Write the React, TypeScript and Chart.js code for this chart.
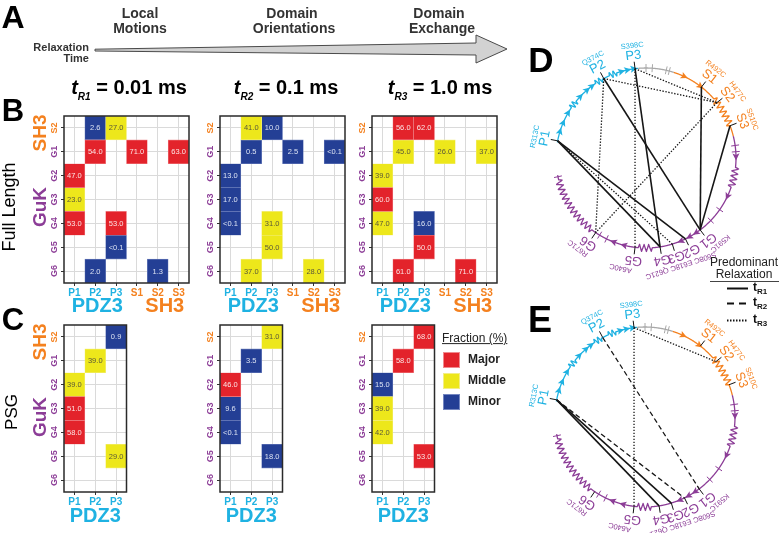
import React, { useEffect, useRef } from 'react';
import { Chart, registerables } from 'chart.js';

Chart.register(...registerables);

const FONT = '"Liberation Sans", Arial, Helvetica, sans-serif';
Chart.defaults.font.family = FONT;

// ---------- colours ----------
const CYAN = '#1FB2E2';
const ORANGE = '#F4811F';
const PURPLE = '#8C3D97';
const GRAYSEG = '#A8A8A8';

// ---------- heatmap data ----------
const rowLabels = ['S2', 'G1', 'G2', 'G3', 'G4', 'G5', 'G6'];
const fullCols = ['P1', 'P2', 'P3', 'S1', 'S2', 'S3'];
const psgCols = ['P1', 'P2', 'P3'];

const fullPairs = [
  ['P2', 'S2'], ['P3', 'S2'], ['P2', 'G1'], ['S1', 'G1'], ['S3', 'G1'], ['P1', 'G2'],
  ['P1', 'G3'], ['P1', 'G4'], ['P3', 'G4'], ['P3', 'G5'], ['P2', 'G6'], ['S2', 'G6'],
];
const fullR1Values = ['2.6', '27.0', '54.0', '71.0', '63.0', '47.0', '23.0', '53.0', '53.0', '<0.1', '2.0', '1.3'];
const fullR1Class = ['Minor', 'Middle', 'Major', 'Major', 'Major', 'Major', 'Middle', 'Major', 'Major', 'Minor', 'Minor', 'Minor'];
const fullR2Values = ['41.0', '10.0', '0.5', '2.5', '<0.1', '13.0', '17.0', '<0.1', '31.0', '50.0', '37.0', '28.0'];
const fullR2Class = ['Middle', 'Minor', 'Minor', 'Minor', 'Minor', 'Minor', 'Minor', 'Minor', 'Middle', 'Middle', 'Middle', 'Middle'];
const fullR3Values = ['56.0', '62.0', '45.0', '26.0', '37.0', '39.0', '60.0', '47.0', '16.0', '50.0', '61.0', '71.0'];
const fullR3Class = ['Major', 'Major', 'Middle', 'Middle', 'Middle', 'Middle', 'Major', 'Middle', 'Minor', 'Major', 'Major', 'Major'];

const psgPairs = [['P3', 'S2'], ['P2', 'G1'], ['P1', 'G2'], ['P1', 'G3'], ['P1', 'G4'], ['P3', 'G5']];
const psgR1Values = ['0.9', '39.0', '39.0', '51.0', '58.0', '29.0'];
const psgR1Class = ['Minor', 'Middle', 'Middle', 'Major', 'Major', 'Middle'];
const psgR2Values = ['31.0', '3.5', '46.0', '9.6', '<0.1', '18.0'];
const psgR2Class = ['Middle', 'Minor', 'Major', 'Minor', 'Minor', 'Minor'];
const psgR3Values = ['68.0', '58.0', '15.0', '39.0', '42.0', '53.0'];
const psgR3Class = ['Major', 'Major', 'Minor', 'Middle', 'Middle', 'Major'];

// ---------- circle diagram data ----------
const siteNames = ['P1', 'P2', 'P3', 'S1', 'S2', 'S3', 'G1', 'G2', 'G3', 'G4', 'G5', 'G6'];
const siteAngles = [169, 118, 97, 52, 38, 21, -53, -64, -73, -81, -97, -124];
const mutationNames = ['R313C', 'Q374C', 'S398C', 'R492C', 'H477C', 'S510C', 'K591C', 'S608C E618C Q621C', 'A640C', 'R671C'];
const mutationSites = ['P1', 'P2', 'P3', 'S1', 'S2', 'S3', 'G1', 'G3', 'G5', 'G6'];
const mutationAngles = [169, 118, 97, 52, 36, 20, -49, -72, -103, -127];

const fullChordFrom = ['P1', 'P1', 'P2', 'P3', 'S1', 'S3', 'P1', 'P2', 'P2', 'P3', 'P3', 'S2'];
const fullChordTo = ['G2', 'G4', 'G1', 'G4', 'G1', 'G1', 'G3', 'S2', 'G6', 'S2', 'G5', 'G6'];
const fullChordTime = ['tR1', 'tR1', 'tR1', 'tR1', 'tR1', 'tR1', 'tR3', 'tR3', 'tR3', 'tR3', 'tR3', 'tR3'];
const psgChordFrom = ['P1', 'P1', 'P1', 'P2', 'P3', 'P3'];
const psgChordTo = ['G3', 'G4', 'G2', 'G1', 'S2', 'G5'];
const psgChordTime = ['tR1', 'tR1', 'tR2', 'tR2', 'tR3', 'tR3'];

// ---------- styles ----------
const CLASS_ORDER = ['Major', 'Middle', 'Minor'];
const CLASS_FILL: any = { Major: '#E3232B', Middle: '#EDE71B', Minor: '#243F95' };
const CLASS_INK: any = { Major: '#FCE4E4', Middle: '#5A5838', Minor: '#DCE3F3' };
const CLASS_EDGE: any = { Major: '#F08A8E', Middle: '#F3EE86', Minor: '#7486C0' };

const CHORD_STYLE: any = {
  tR1: { dash: [], width: 1.6 },
  tR2: { dash: [5, 3], width: 1.3 },
  tR3: { dash: [1.4, 1.6], width: 1.3 },
};

const BACKBONE = [
  { from: 170, to: 95, color: CYAN },
  { from: 95, to: 72, color: GRAYSEG },
  { from: 72, to: 14, color: ORANGE },
  { from: 14, to: -169, color: PURPLE },
];
const HELICES = [[146, 141], [124, 119], [114, 109], [41, 21], [-6, -19], [-86, -95], [-127, -166]];
const STRANDS = [163, 157, 150, 137, 131, 127, 106, 102, 98, 65, 53, 1, -25, -56, -61, -67, -104, -111];
const CROSSES = [90, 86, 77, 75, 8, 4, -35, -44, -116, -121, -168];

const siteColor = (s: string) => (s[0] === 'P' ? CYAN : s[0] === 'S' ? ORANGE : PURPLE);

const CELL_W = 125 / 6;
const FRAME_H = 167;

// ---------- heatmap ----------
function Heatmap({ left, top, cols, pairs, values, classes }: any) {
  const ref = useRef<HTMLCanvasElement>(null);
  const YW = 22;
  const PT = 4;
  const XH = 20;
  const fw = cols.length * CELL_W;
  const W = Math.ceil(YW + fw + 4);
  const H = PT + FRAME_H + XH;

  useEffect(() => {
    const datasets = CLASS_ORDER.map((c) => ({
      label: c,
      data: pairs
        .map((p: string[], i: number) => ({
          x: p[0],
          y: [rowLabels.indexOf(p[1]) - 0.5, rowLabels.indexOf(p[1]) + 0.5],
          v: values[i],
          c: classes[i],
        }))
        .filter((d: any) => d.c === c),
      backgroundColor: CLASS_FILL[c],
      borderColor: CLASS_EDGE[c],
      borderWidth: 0.6,
      borderSkipped: false,
      grouped: false,
      barPercentage: 1,
      categoryPercentage: 1,
    }));

    const cellText = {
      id: 'cellText',
      afterDatasetsDraw(chart: any) {
        const ctx = chart.ctx;
        ctx.save();
        ctx.font = `7.5px ${FONT}`;
        ctx.textAlign = 'center';
        ctx.textBaseline = 'middle';
        chart.data.datasets.forEach((ds: any, di: number) => {
          const meta = chart.getDatasetMeta(di);
          meta.data.forEach((el: any, j: number) => {
            const d = ds.data[j];
            ctx.fillStyle = CLASS_INK[d.c];
            ctx.fillText(d.v, el.x, (el.y + el.base) / 2 + 0.5);
          });
        });
        ctx.restore();
      },
    };

    const frame = {
      id: 'frame',
      afterDraw(chart: any) {
        const ctx = chart.ctx;
        const a = chart.chartArea;
        ctx.save();
        ctx.strokeStyle = '#2A2A2A';
        ctx.lineWidth = 1.5;
        ctx.strokeRect(a.left, a.top, a.right - a.left, a.bottom - a.top);
        const ys = chart.scales.y;
        ctx.font = `bold 9px ${FONT}`;
        ctx.textAlign = 'center';
        ctx.textBaseline = 'middle';
        rowLabels.forEach((r, i) => {
          ctx.save();
          ctx.translate(a.left - 9, ys.getPixelForValue(i));
          ctx.rotate(-Math.PI / 2);
          ctx.fillStyle = siteColor(r);
          ctx.fillText(r, 0, 0);
          ctx.restore();
        });
        ctx.restore();
      },
    };

    const chart = new Chart(ref.current as HTMLCanvasElement, {
      type: 'bar',
      data: { labels: cols, datasets: datasets as any },
      options: {
        animation: false,
        responsive: false,
        maintainAspectRatio: false,
        events: [],
        layout: { padding: { top: PT, right: W - YW - fw, left: 0, bottom: 0 } },
        plugins: { legend: { display: false }, tooltip: { enabled: false } },
        scales: {
          x: {
            type: 'category',
            offset: true,
            grid: { offset: false, color: '#DADADA', lineWidth: 1, tickLength: 3, tickColor: '#333', tickWidth: 1 },
            border: { display: false },
            ticks: {
              autoSkip: false,
              maxRotation: 0,
              minRotation: 0,
              padding: 1,
              font: { size: 10, weight: 'bold' },
              color: (ctx: any) => siteColor(cols[ctx.index] || 'P'),
            },
            afterFit: (s: any) => {
              s.height = XH;
            },
          },
          y: {
            type: 'linear',
            min: -0.5,
            max: 6.5,
            reverse: true,
            afterBuildTicks: (s: any) => {
              s.ticks = rowLabels.map((_, i) => ({ value: i }));
            },
            grid: { color: '#DADADA', lineWidth: 1, tickLength: 3, tickColor: '#333', tickWidth: 1 },
            border: { display: false },
            ticks: { display: false },
            afterFit: (s: any) => {
              s.width = YW;
            },
          },
        },
      } as any,
      plugins: [cellText, frame],
    });
    return () => chart.destroy();
  }, []);

  return (
    <canvas
      ref={ref}
      width={W}
      height={H}
      style={{ position: 'absolute', left: left - YW, top: top - PT, width: W, height: H }}
    />
  );
}

// ---------- circle diagram ----------
function segColor(a: number) {
  for (const s of BACKBONE) if (a <= s.from && a >= s.to) return s.color;
  return PURPLE;
}

function drawBackbone(ctx: any, cx: number, cy: number, R: number) {
  const rad = (a: number) => (a * Math.PI) / 180;
  ctx.save();
  ctx.lineWidth = 1.3;
  ctx.lineJoin = 'round';
  for (const s of BACKBONE) {
    ctx.beginPath();
    ctx.strokeStyle = s.color;
    let first = true;
    for (let a = s.from; a >= s.to - 1e-9; a -= 0.25) {
      let r = R;
      const h = HELICES.find((hh) => a <= hh[0] && a >= hh[1]);
      if (h) {
        const len = rad(h[0] - h[1]) * R;
        const n = Math.max(1, Math.round(len / 5));
        const u = ((h[0] - a) / (h[0] - h[1])) * n;
        const f = u - Math.floor(u);
        const g = f < 0.25 ? 4 * f : f < 0.75 ? 2 - 4 * f : 4 * f - 4;
        r = R + 3.5 * g;
      }
      const x = cx + r * Math.cos(rad(a));
      const y = cy - r * Math.sin(rad(a));
      if (first) {
        ctx.moveTo(x, y);
        first = false;
      } else ctx.lineTo(x, y);
    }
    ctx.stroke();
  }
  for (const a of STRANDS) {
    const t = rad(a);
    const px = cx + R * Math.cos(t);
    const py = cy - R * Math.sin(t);
    const tx = Math.sin(t);
    const ty = Math.cos(t);
    const nx = Math.cos(t);
    const ny = -Math.sin(t);
    ctx.fillStyle = segColor(a);
    ctx.beginPath();
    ctx.moveTo(px + 4 * tx, py + 4 * ty);
    ctx.lineTo(px - 3 * tx + 3.5 * nx, py - 3 * ty + 3.5 * ny);
    ctx.lineTo(px - 1.5 * tx, py - 1.5 * ty);
    ctx.lineTo(px - 3 * tx - 3.5 * nx, py - 3 * ty - 3.5 * ny);
    ctx.closePath();
    ctx.fill();
  }
  ctx.lineWidth = 1;
  for (const a of CROSSES) {
    const t = rad(a);
    ctx.strokeStyle = segColor(a);
    ctx.beginPath();
    ctx.moveTo(cx + (R - 4) * Math.cos(t), cy - (R - 4) * Math.sin(t));
    ctx.lineTo(cx + (R + 4) * Math.cos(t), cy - (R + 4) * Math.sin(t));
    ctx.stroke();
  }
  ctx.restore();
}

function drawSiteLabels(ctx: any, cx: number, cy: number, R: number) {
  const rad = (a: number) => (a * Math.PI) / 180;
  ctx.save();
  ctx.strokeStyle = '#111';
  ctx.lineWidth = 1;
  siteNames.forEach((s, i) => {
    const t = rad(siteAngles[i]);
    ctx.beginPath();
    ctx.moveTo(cx + R * Math.cos(t), cy - R * Math.sin(t));
    ctx.lineTo(cx + (R + 7) * Math.cos(t), cy - (R + 7) * Math.sin(t));
    ctx.stroke();
  });
  ctx.textAlign = 'center';
  ctx.textBaseline = 'middle';
  const put = (text: string, a: number, r: number, font: string, color: string) => {
    const t = rad(a);
    ctx.save();
    ctx.translate(cx + r * Math.cos(t), cy - r * Math.sin(t));
    ctx.rotate(((90 - a) * Math.PI) / 180);
    ctx.font = font;
    ctx.fillStyle = color;
    ctx.fillText(text, 0, 0);
    ctx.restore();
  };
  siteNames.forEach((s, i) => put(s, siteAngles[i], R + 13, `13px ${FONT}`, siteColor(s)));
  mutationNames.forEach((m, i) => put(m, mutationAngles[i], R + 23, `7.5px ${FONT}`, siteColor(mutationSites[i])));
  ctx.restore();
}

function CircleChart({ cx, cy, from, to, time }: any) {
  const ref = useRef<HTMLCanvasElement>(null);
  const SIZE = 280;
  const R_PX = 90;
  useEffect(() => {
    const S = SIZE / 2 / R_PX;
    const pt = (name: string) => {
      const a = (siteAngles[siteNames.indexOf(name)] * Math.PI) / 180;
      return { x: Math.cos(a), y: Math.sin(a) };
    };
    const datasets = from.map((f: string, i: number) => ({
      data: [pt(f), pt(to[i])],
      showLine: true,
      borderColor: '#161616',
      borderWidth: CHORD_STYLE[time[i]].width,
      borderDash: CHORD_STYLE[time[i]].dash,
      pointRadius: 0,
      fill: false,
    }));
    const ring = {
      id: 'ring',
      beforeDatasetsDraw(chart: any) {
        const xs = chart.scales.x;
        const ys = chart.scales.y;
        const c0 = xs.getPixelForValue(0);
        const R = xs.getPixelForValue(1) - c0;
        drawBackbone(chart.ctx, c0, ys.getPixelForValue(0), R);
      },
      afterDatasetsDraw(chart: any) {
        const xs = chart.scales.x;
        const ys = chart.scales.y;
        const c0 = xs.getPixelForValue(0);
        const R = xs.getPixelForValue(1) - c0;
        drawSiteLabels(chart.ctx, c0, ys.getPixelForValue(0), R);
      },
    };
    const chart = new Chart(ref.current as HTMLCanvasElement, {
      type: 'scatter',
      data: { datasets },
      options: {
        animation: false,
        responsive: false,
        maintainAspectRatio: false,
        events: [],
        layout: { padding: 0 },
        plugins: { legend: { display: false }, tooltip: { enabled: false } },
        scales: {
          x: { type: 'linear', min: -S, max: S, display: false },
          y: { type: 'linear', min: -S, max: S, display: false },
        },
      } as any,
      plugins: [ring],
    });
    return () => chart.destroy();
  }, []);
  return (
    <canvas
      ref={ref}
      width={SIZE}
      height={SIZE}
      style={{ position: 'absolute', left: cx - SIZE / 2, top: cy - SIZE / 2, width: SIZE, height: SIZE }}
    />
  );
}

// ---------- text helper ----------
function T({ x, y, s = 12, w = 'bold', c = '#000', a = 'center', r = 0, children, style }: any) {
  const tx = a === 'center' ? '-50%' : a === 'right' ? '-100%' : '0';
  return (
    <div
      style={{
        position: 'absolute',
        left: x,
        top: y,
        transform: `translate(${tx},-50%) rotate(${r}deg)`,
        fontFamily: FONT,
        fontSize: s,
        fontWeight: w,
        color: c,
        whiteSpace: 'nowrap',
        lineHeight: 1.15,
        ...style,
      }}
    >
      {children}
    </div>
  );
}

function TTitle({ x, sub, val }: any) {
  return (
    <T x={x} y={87} s={20}>
      <i>t</i>
      <span style={{ fontSize: 10, fontStyle: 'italic', position: 'relative', top: 6 }}>{sub}</span>
      {' = ' + val}
    </T>
  );
}

export default function App() {
  const bLefts = [64, 220, 372];
  const pCenter = (l: number) => l + 1.5 * CELL_W;
  const sCenter = (l: number) => l + 4.5 * CELL_W;
  return (
    <div
      style={{
        position: 'fixed',
        left: 0,
        top: 0,
        width: 779,
        height: 533,
        overflow: 'hidden',
        background: '#fff',
        fontFamily: FONT,
      }}
    >
      <Heatmap left={64} top={116} cols={fullCols} pairs={fullPairs} values={fullR1Values} classes={fullR1Class} />
      <Heatmap left={220} top={116} cols={fullCols} pairs={fullPairs} values={fullR2Values} classes={fullR2Class} />
      <Heatmap left={372} top={116} cols={fullCols} pairs={fullPairs} values={fullR3Values} classes={fullR3Class} />
      <Heatmap left={64} top={325} cols={psgCols} pairs={psgPairs} values={psgR1Values} classes={psgR1Class} />
      <Heatmap left={220} top={325} cols={psgCols} pairs={psgPairs} values={psgR2Values} classes={psgR2Class} />
      <Heatmap left={372} top={325} cols={psgCols} pairs={psgPairs} values={psgR3Values} classes={psgR3Class} />

      <CircleChart cx={646} cy={158} from={fullChordFrom} to={fullChordTo} time={fullChordTime} />
      <CircleChart cx={645} cy={417} from={psgChordFrom} to={psgChordTo} time={psgChordTime} />

      <svg width={779} height={100} style={{ position: 'absolute', left: 0, top: 0 }}>
        <polygon
          points="95,49.2 476,43 476,35 507,49 476,63 476,55 95,51"
          fill="#D2D2D2"
          stroke="#4A4A4A"
          strokeWidth={1}
          strokeLinejoin="miter"
        />
      </svg>

      {/* panel letters */}
      <T x={13} y={17} s={32}>A</T>
      <T x={13} y={111} s={31}>B</T>
      <T x={13} y={320} s={31}>C</T>
      <T x={541} y={60} s={35}>D</T>
      <T x={540} y={320} s={36}>E</T>

      {/* panel A */}
      <T x={140} y={12.5} s={14} c="#333">Local</T>
      <T x={140} y={27.5} s={14} c="#333">Motions</T>
      <T x={292} y={12.5} s={14} c="#333">Domain</T>
      <T x={294} y={27.5} s={14} c="#333">Orientations</T>
      <T x={439} y={12.5} s={14} c="#333">Domain</T>
      <T x={442} y={27.5} s={14} c="#333">Exchange</T>
      <T x={89} y={46.5} s={11} c="#333" a="right">Relaxation</T>
      <T x={89} y={57.5} s={11} c="#333" a="right">Time</T>

      <TTitle x={129} sub="R1" val="0.01 ms" />
      <TTitle x={286} sub="R2" val="0.1 ms" />
      <TTitle x={440} sub="R3" val="1.0 ms" />

      {/* row titles */}
      <T x={40} y={133} s={19} c={ORANGE} r={-90}>SH3</T>
      <T x={40} y={207} s={19} c={PURPLE} r={-90}>GuK</T>
      <T x={9} y={207} s={18} w="normal" r={-90}>Full Length</T>
      <T x={40} y={342} s={19} c={ORANGE} r={-90}>SH3</T>
      <T x={40} y={417} s={19} c={PURPLE} r={-90}>GuK</T>
      <T x={12} y={412} s={17} w="normal" r={-90}>PSG</T>

      {/* column titles */}
      {bLefts.map((l) => (
        <React.Fragment key={'b' + l}>
          <T x={pCenter(l) + 2} y={305} s={20} c={CYAN}>PDZ3</T>
          <T x={sCenter(l) + 7} y={305} s={20} c={ORANGE}>SH3</T>
        </React.Fragment>
      ))}
      {bLefts.map((l) => (
        <T key={'c' + l} x={pCenter(l)} y={515} s={20} c={CYAN}>PDZ3</T>
      ))}

      {/* fraction legend */}
      <T x={442} y={339} s={12} w="normal" c="#222" a="left" style={{ textDecoration: 'underline' }}>Fraction (%)</T>
      {CLASS_ORDER.map((c, i) => (
        <React.Fragment key={c}>
          <div
            style={{
              position: 'absolute',
              left: 443,
              top: 352 + i * 21,
              width: 17,
              height: 16,
              boxSizing: 'border-box',
              background: CLASS_FILL[c],
              border: `1px solid ${CLASS_EDGE[c]}`,
            }}
          />
          <T x={468} y={360 + i * 21} s={12} c="#222" a="left">{c}</T>
        </React.Fragment>
      ))}

      {/* predominant relaxation legend */}
      <T x={744} y={263} s={12} w="normal" c="#222">Predominant</T>
      <T x={744} y={275} s={12} w="normal" c="#222">Relaxation</T>
      <svg width={779} height={533} style={{ position: 'absolute', left: 0, top: 0, pointerEvents: 'none' }}>
        <line x1={710} y1={281.5} x2={779} y2={281.5} stroke="#444" strokeWidth={1} />
        <line x1={727} y1={288.5} x2={748} y2={288.5} stroke="#111" strokeWidth={2} />
        <line x1={727} y1={303.5} x2={748} y2={303.5} stroke="#111" strokeWidth={2} strokeDasharray="7 5" />
        <line x1={727} y1={320.5} x2={748} y2={320.5} stroke="#111" strokeWidth={2} strokeDasharray="1.5 1.5" />
      </svg>
      {['R1', 'R2', 'R3'].map((r, i) => (
        <T key={r} x={753} y={[288, 303, 320][i]} s={12} c="#111" a="left">
          t<span style={{ fontSize: 8, position: 'relative', top: 3 }}>{r}</span>
        </T>
      ))}
    </div>
  );
}
